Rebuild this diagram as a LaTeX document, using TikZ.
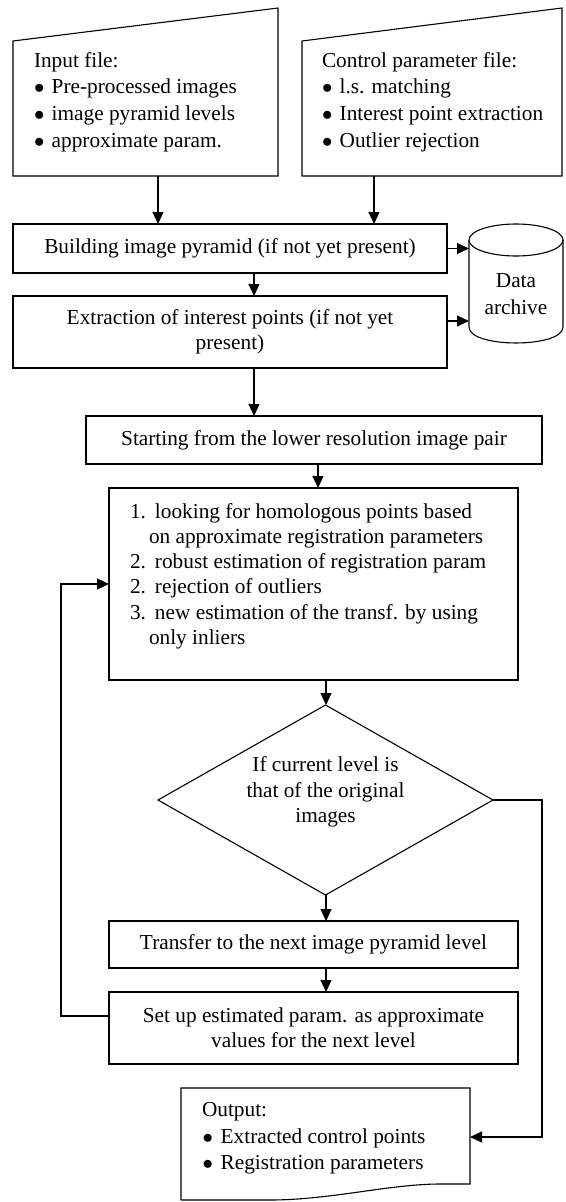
\documentclass[tikz,border=0pt]{standalone}
\usepackage{fontspec}
\setmainfont{Liberation Serif}
\usetikzlibrary{arrows.meta,shapes.geometric,calc}
\newcommand{\blt}[1]{$\bullet$\hspace*{#1}}
\begin{document}
\begin{tikzpicture}[x=1pt,y=-1pt,
  line width=1.1pt,
  arr/.style={-{Triangle[length=12pt,width=11pt]}},
  box/.style={draw, rectangle, inner sep=0pt, outer sep=0pt, font=\fontsize{21.3}{25.3}\selectfont},
  frame/.style={rectangle, inner sep=0pt, outer sep=0pt},
  txt/.style={inner sep=0pt, outer sep=0pt, font=\fontsize{21.3}{25.3}\selectfont}]
\useasboundingbox (0,0) rectangle (565,1202);

% input file
\node[frame, minimum width=265pt, minimum height=135pt] (in) at (145.5,108.5) {};
\draw (in.south west) -- (in.north west) -- ($(in.north east)+(0,-33)$) -- (in.south east) -- cycle;
\node[txt, anchor=west, align=left, font=\fontsize{21.3}{26.7}\selectfont] (intxt) at (34,102)
  {Input file:\\\blt{7.3pt}Pre-processed images\\\blt{7.3pt}image pyramid levels\\\blt{7.3pt}approximate param.};

% control parameter file
\node[frame, minimum width=260pt, minimum height=135pt] (ctl) at (432,108.5) {};
\draw (ctl.south west) -- (ctl.north west) -- ($(ctl.north east)+(0,-33)$) -- (ctl.south east) -- cycle;
\node[txt, anchor=west, align=left, font=\fontsize{21.3}{26.7}\selectfont] (ctltxt) at (322,102)
  {Control parameter file:\\\blt{7.3pt}l.s. matching\\\blt{7.3pt}Interest point extraction\\\blt{7.3pt}Outlier rejection};

% process boxes
\node[box, minimum width=434pt, minimum height=49pt] (build) at (230,248.5) {Building image pyramid (if not yet present)};
\node[box, minimum width=434pt, minimum height=72pt, align=center] (extr) at (230,332) {Extraction of interest points (if not yet\\present)};

% data archive
\node[frame, minimum width=94pt, minimum height=119pt] (arch) at (516,283.5) {};
\draw ($(arch.north)+(0,16)$) ellipse [x radius=47, y radius=16];
\draw ($(arch.north west)+(0,16)$) -- ($(arch.south west)+(0,-16)$)
  .. controls ($(arch.south west)+(0,5.3)$) and ($(arch.south east)+(0,5.3)$) .. ($(arch.south east)+(0,-16)$)
  -- ($(arch.north east)+(0,16)$);
\node[txt, align=center, font=\fontsize{21.3}{27}\selectfont] (archtxt) at (516,294.5) {Data\\archive};

\node[box, minimum width=456pt, minimum height=48pt] (start) at (314,440) {Starting from the lower resolution image pair};

\node[box, minimum width=409pt, minimum height=192pt] (main) at (313.5,584) {};
\node[txt, anchor=west, align=left, font=\fontsize{21.3}{25.2}\selectfont] (maintxt) at (130,576)
  {\makebox[25pt][l]{1.}looking for homologous points based\\\hspace*{19pt}on approximate registration parameters\\\makebox[25pt][l]{2.}robust estimation of registration param\\\makebox[25pt][l]{2.}rejection of outliers\\\makebox[25pt][l]{3.}new estimation of the transf. by using\\\hspace*{19pt}only inliers};

\node[diamond, draw, minimum width=335pt, minimum height=190pt, inner sep=0pt, outer sep=0pt] (dec) at (325.5,800) {};
\node[txt, align=center, font=\fontsize{21.3}{25.5}\selectfont] (dectxt) at (325.5,792) {If current level is\\that of the original\\images};

\node[box, minimum width=409pt, minimum height=47pt] (trans) at (313.5,944.5) {Transfer to the next image pyramid level};
\node[box, minimum width=409pt, minimum height=72pt, align=center] (setup) at (313.5,1028) {Set up estimated param. as approximate\\values for the next level};

% output document
\node[frame, minimum width=289pt, minimum height=112pt] (out) at (325.5,1144) {};
\draw (out.south west) -- (out.north west) -- (out.north east) -- ($(out.south east)+(0,-16)$)
  -- ($(out.south east)+(-30,-16)$)
  .. controls ($(out.south east)+(-80,-16)$) and ($(out.south east)+(-140,0)$) .. ($(out.south east)+(-200,0)$)
  -- (out.south west);
\node[txt, anchor=west, align=left, font=\fontsize{21.3}{26.5}\selectfont] (outtxt) at (202,1138.7)
  {Output:\\\hspace*{0.5pt}\blt{7.8pt}Extracted control points\\\hspace*{0.5pt}\blt{7.8pt}Registration parameters};

% connector helpers
\coordinate (cx1) at (158,0);
\coordinate (cx2) at (374,0);
\coordinate (cx3) at (254,0);
\coordinate (cx4) at (318,0);
\coordinate (cx5) at (326,0);
\coordinate (cy1) at (0,321);
\coordinate (cy2) at (0,1016);
\coordinate (cy3) at (0,1137);
\coordinate (loopx) at (61,0);
\coordinate (rightx) at (542,0);

\draw[arr] (in.south -| cx1) -- (build.north -| cx1);
\draw[arr] (ctl.south -| cx2) -- (build.north -| cx2);
\draw[arr] (build.east) -- (build.east -| arch.west);
\draw[arr] (build.south -| cx3) -- (extr.north -| cx3);
\draw[arr] (extr.east |- cy1) -- (arch.west |- cy1);
\draw[arr] (extr.south -| cx3) -- (start.north -| cx3);
\draw[arr] (start.south -| cx4) -- (main.north -| cx4);
\draw[arr] (main.south -| cx5) -- (dec.north -| cx5);
\draw[arr] (dec.south -| cx5) -- (trans.north -| cx5);
\draw[arr] (trans.south -| cx5) -- (setup.north -| cx5);
\draw[arr] (setup.west |- cy2) -| (loopx |- main.west) -- (main.west);
\draw[arr] (dec.east) -- (rightx |- dec.east) -- (rightx |- cy3) -- (out.east |- cy3);
\end{tikzpicture}
\end{document}
